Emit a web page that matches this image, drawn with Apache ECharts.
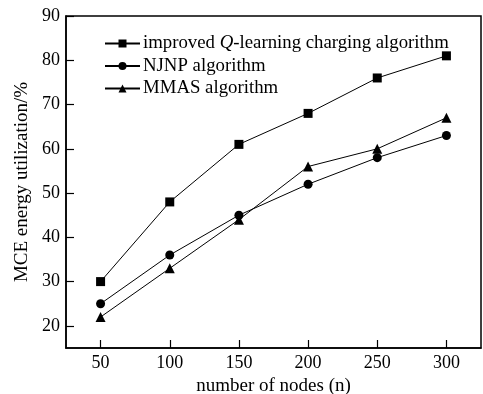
<!DOCTYPE html>
<html><head><meta charset="utf-8">
<script src="https://cdn.jsdelivr.net/npm/echarts@6/dist/echarts.min.js"></script>
<style>html,body{margin:0;padding:0;background:#fff}#c{width:483px;height:394px}</style>
</head><body><div id="c"></div>
<script>
const nodes = [50, 100, 150, 200, 250, 300];
const qLearning = [30, 48, 61, 68, 76, 81];
const njnp = [25, 36, 45, 52, 58, 63];
const mmas = [22, 33, 44, 56, 60, 67];
const xTicks = [50, 100, 150, 200, 250, 300];
const yTicks = [20, 30, 40, 50, 60, 70, 80, 90];
const names = ['improved Q-learning charging algorithm', 'NJNP algorithm', 'MMAS algorithm'];

const font = "'Liberation Serif','Times New Roman',serif";
const pair = ys => nodes.map((x, i) => [x, ys[i]]);
const chart = echarts.init(document.getElementById('c'), null, {renderer: 'canvas'});
const mk = (name, ys, sym, size) => ({
  name, type: 'line', data: pair(ys), symbol: sym, symbolSize: size,
  lineStyle: {color: '#000', width: 1}, itemStyle: {color: '#000'},
  emphasis: {disabled: true}, animation: false
});
chart.setOption({
  animation: false,
  grid: {left: 66, right: 2, top: 16, bottom: 46, show: true, borderColor: '#000', borderWidth: 1.5,
    backgroundColor: 'transparent', containLabel: false, outerBoundsMode: 'none'},
  legend: {
    orient: 'vertical', left: 99, top: 29, itemWidth: 35, itemHeight: 10, itemGap: 3.5,
    data: names,
    formatter: n => n === names[0] ? 'improved {i|Q}-learning charging algorithm' : n,
    textStyle: {fontFamily: font, fontSize: 18.8, color: '#000', lineHeight: 18, padding: [0,0,0,-2],
      rich: {i: {fontFamily: font, fontSize: 18.8, fontStyle: 'italic', color: '#000', lineHeight: 18}}}
  },
  xAxis: {
    type: 'value', min: 25, max: 325,
    name: 'number of nodes (n)', nameLocation: 'middle', nameGap: 29,
    nameTextStyle: {fontFamily: font, fontSize: 19, color: '#000'},
    axisLine: {show: true, lineStyle: {color: '#000', width: 1.5}},
    axisTick: {show: true, inside: true, length: 8, customValues: xTicks, lineStyle: {color: '#000', width: 1.2}},
    axisLabel: {customValues: xTicks, fontFamily: font, fontSize: 18, color: '#000', margin: 6},
    splitLine: {show: false}
  },
  yAxis: {
    type: 'value', min: 15, max: 90,
    name: 'MCE energy utilization/%', nameLocation: 'middle', nameGap: 28,
    nameTextStyle: {fontFamily: font, fontSize: 19, color: '#000'},
    axisLine: {show: true, lineStyle: {color: '#000', width: 1.5}},
    axisTick: {show: true, inside: true, length: 8, customValues: yTicks, lineStyle: {color: '#000', width: 1.2}},
    axisLabel: {customValues: yTicks, fontFamily: font, fontSize: 18, color: '#000', margin: 6},
    splitLine: {show: false}
  },
  series: [
    mk(names[0], qLearning, 'rect', 9),
    mk(names[1], njnp, 'circle', 9),
    mk(names[2], mmas, 'triangle', 10)
  ]
});
</script></body></html>
